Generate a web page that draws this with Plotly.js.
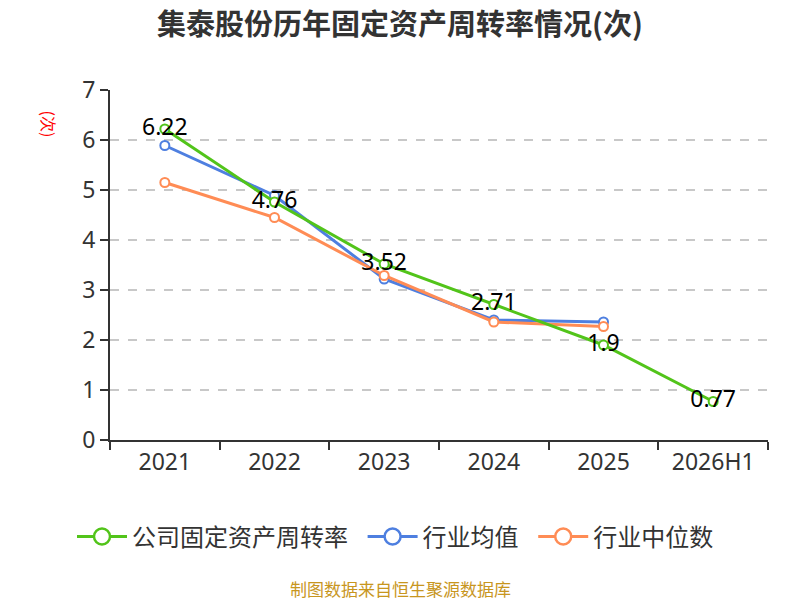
<!DOCTYPE html>
<html>
<head>
<meta charset="utf-8">
<script src="https://cdn.plot.ly/plotly-3.0.1.min.js"></script>
<style>html,body{margin:0;padding:0;background:#fff;}#chart{width:800px;height:600px;}</style>
</head>
<body>
<div id="chart"></div>
<script>
const categories = ['2021','2022','2023','2024','2025','2026H1'];
const companyValues = [6.22, 4.76, 3.52, 2.71, 1.9, 0.77];
const industryAvg = [5.89, 4.89, 3.22, 2.40, 2.36];
const industryMedian = [5.15, 4.45, 3.29, 2.36, 2.27];
const seriesNames = ['公司固定资产周转率','行业均值','行业中位数'];
const colors = ['#52c41a','#4e7fe0','#ff8c55'];

const marker = (c, s) => ({symbol:'circle', size:s, color:'#fff', line:{color:c, width:2}});
const traces = [
  {x: categories.slice(0,5), y: industryAvg, name: seriesNames[1], type:'scatter', mode:'lines+markers',
   line:{color:colors[1], width:3}, marker: marker(colors[1], 9), showlegend:false},
  {x: categories.slice(0,5), y: industryMedian, name: seriesNames[2], type:'scatter', mode:'lines+markers',
   line:{color:colors[2], width:3}, marker: marker(colors[2], 9), showlegend:false},
  {x: categories, y: companyValues, name: seriesNames[0], type:'scatter', mode:'lines+markers+text',
   text: companyValues.map(v=>String(v)), textposition:'middle center', textfont:{size:23,color:'#000'},
   line:{color:colors[0], width:3}, marker: marker(colors[0], 9), cliponaxis:false, showlegend:false}
];
// legend entries
seriesNames.forEach((n, i) => traces.push({
  x:[null], y:[null], name:n + '\u2009\u2009', type:'scatter', mode:'lines+markers',
  line:{color:colors[i], width:3}, marker: {symbol:'circle', size:20, color:'#fff', line:{color:colors[i], width:2.5}},
  showlegend:true, legendrank:i+1
}));

const cx = (400-110)/658;
const layout = {
  width:800, height:600,
  margin:{l:110, r:32, t:90, b:160},
  paper_bgcolor:'#fff', plot_bgcolor:'#fff',
  font:{family:'"Noto Sans", "Noto Sans CJK SC", sans-serif', color:'#333'},
  title:{text:'<b>集泰股份历年固定资产周转率情况(次)</b>', x:0.5, xanchor:'center', y:0.959, yanchor:'middle',
         font:{size:29, color:'#333', family:'"Noto Sans CJK SC", sans-serif'}},
  xaxis:{type:'category', categoryorder:'array', categoryarray:categories,
         showline:true, linecolor:'#333', linewidth:2, ticks:'outside', tickson:'boundaries',
         ticklen:8, tickcolor:'#333', tickwidth:2, tickfont:{size:23,color:'#333'}, showgrid:false,
         range:[-0.5,5.5]},
  yaxis:{range:[0,7], dtick:1, showline:true, linecolor:'#333', linewidth:2, ticks:'outside',
         ticklen:8, tickcolor:'#333', tickwidth:2, tickfont:{size:23,color:'#333'},
         showgrid:true, gridcolor:'#c8c8c8', griddash:'dash', gridwidth:1.5, zeroline:false},
  legend:{orientation:'h', x:cx, xanchor:'center', y:-0.277, yanchor:'middle',
          font:{size:24,color:'#333', family:'"Noto Sans CJK SC", sans-serif'}, traceorder:'normal', itemwidth:50, itemsizing:'trace'},
  showlegend:true,
  annotations:[
    {text:'制图数据来自恒生聚源数据库', xref:'paper', yref:'paper', x:cx, y:-0.423,
     xanchor:'center', yanchor:'middle', showarrow:false, font:{size:17,color:'#c8961e', family:'"Noto Sans CJK SC", sans-serif'}},
    {text:'(次)', xref:'paper', yref:'paper', x:-0.092, y:0.903, xanchor:'center', yanchor:'middle',
     textangle:90, showarrow:false, font:{size:16,color:'#ff0000', family:'"Noto Sans CJK SC", sans-serif'}}
  ]
};
Plotly.newPlot('chart', traces, layout, {displayModeBar:false, staticPlot:true});
</script>
</body>
</html>
